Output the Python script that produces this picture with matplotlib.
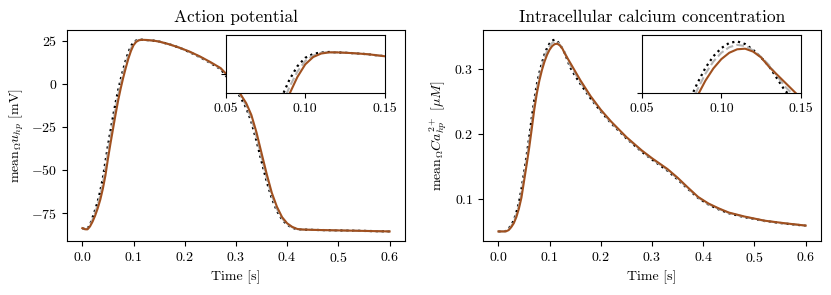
import numpy as np
import matplotlib
matplotlib.use("Agg")
import matplotlib.pyplot as plt

plt.rcParams['font.family'] = 'serif'
plt.rcParams['font.serif'] = ['cmr10', 'DejaVu Serif']
plt.rcParams['mathtext.fontset'] = 'cm'
plt.rcParams['axes.formatter.use_mathtext'] = True
plt.rcParams['font.size'] = 10

# Action potential (mean over domain), mV
t_ap = [0, 0.005, 0.01, 0.015, 0.02, 0.025, 0.03, 0.035, 0.04, 0.045, 0.05, 0.055,
        0.06, 0.065, 0.07, 0.075, 0.08, 0.085, 0.09, 0.095, 0.10, 0.105, 0.11, 0.115,
        0.12, 0.13, 0.14, 0.15, 0.17, 0.19, 0.21, 0.23, 0.25, 0.27, 0.29, 0.30, 0.31,
        0.32, 0.33, 0.34, 0.35, 0.36, 0.37, 0.38, 0.39, 0.40, 0.41, 0.42, 0.43, 0.45,
        0.50, 0.55, 0.60]
ap_ref = [-83.8, -84.4, -84.1, -81.8, -77.6, -73.2, -68.3, -62.2, -54.8, -45.3, -35.8, -27.2,
          -18.8, -10.8, -3.6, 2.8, 8.6, 13.9, 18.5, 22.0, 24.2, 25.2, 25.6, 25.7,
          25.6, 25.4, 25.1, 24.6, 23.0, 21.0, 18.4, 15.5, 12.2, 8.6, 1.2, -3.5, -8.4,
          -13.9, -22.0, -33.0, -45.1, -56.7, -66.5, -73.8, -78.8, -81.8, -83.6, -84.4, -84.6, -84.8,
          -85.1, -85.4, -85.7]
ap_mid = [-83.8, -84.4, -84.3, -82.3, -78.8, -74.9, -70.3, -64.8, -57.9, -49.3, -39.6, -30.9,
          -22.4, -14.2, -6.6, 0.2, 6.2, 11.7, 16.6, 20.6, 23.4, 24.8, 25.5, 25.65,
          25.6, 25.4, 25.1, 24.6, 23.0, 21.0, 18.5, 15.7, 12.4, 8.9, 2.1, -2.5, -7.4,
          -12.5, -20.0, -30.5, -42.7, -54.5, -64.9, -72.6, -78.1, -81.4, -83.3, -84.35, -84.6, -84.8,
          -85.1, -85.4, -85.7]
ap_fit = [-83.8, -84.4, -84.5, -82.8, -80.0, -76.5, -72.3, -67.3, -61.0, -53.3, -43.5, -34.5,
          -26.0, -17.5, -9.5, -2.5, 3.8, 9.5, 14.8, 19.2, 22.5, 24.4, 25.3, 25.6,
          25.6, 25.4, 25.1, 24.6, 23.0, 21.0, 18.7, 15.9, 12.7, 9.2, 3.0, -1.5, -6.5,
          -11.2, -18.0, -28.1, -40.3, -52.3, -63.3, -71.4, -77.4, -81.0, -83.1, -84.3, -84.6, -84.8,
          -85.1, -85.4, -85.7]

# Intracellular calcium (mean over domain), uM
t_ca = [0, 0.01, 0.015, 0.02, 0.025, 0.03, 0.035, 0.04, 0.045, 0.05, 0.055, 0.06,
        0.065, 0.07, 0.075, 0.08, 0.085, 0.09, 0.095, 0.10, 0.105, 0.11, 0.115, 0.12,
        0.125, 0.13, 0.14, 0.15, 0.16, 0.18, 0.20, 0.22, 0.25, 0.28, 0.30, 0.33, 0.35,
        0.37, 0.39, 0.41, 0.43, 0.45, 0.48, 0.52, 0.56, 0.60]
ca_ref = [0.050, 0.050, 0.0508, 0.0545, 0.0595, 0.067, 0.079, 0.094, 0.115, 0.140, 0.166, 0.194,
          0.224, 0.252, 0.276, 0.294, 0.309, 0.322, 0.332, 0.339, 0.3435, 0.3448, 0.3425, 0.3375,
          0.331, 0.3235, 0.3025, 0.289, 0.277, 0.2545, 0.2345, 0.2165, 0.193, 0.1725, 0.1605, 0.1435, 0.130,
          0.1155, 0.1015, 0.0915, 0.084, 0.078, 0.072, 0.066, 0.062, 0.0588]
ca_mid = [0.050, 0.050, 0.0505, 0.053, 0.058, 0.0645, 0.0755, 0.0895, 0.108, 0.1335, 0.159, 0.186,
          0.2155, 0.2445, 0.2695, 0.288, 0.3035, 0.317, 0.3275, 0.335, 0.3398, 0.3418, 0.3408, 0.337,
          0.3315, 0.3245, 0.306, 0.2925, 0.2795, 0.2563, 0.2358, 0.2178, 0.194, 0.1735, 0.1615, 0.1448, 0.1315,
          0.1165, 0.1022, 0.0922, 0.0848, 0.0785, 0.0725, 0.0662, 0.0622, 0.0589]
ca_fit = [0.050, 0.050, 0.0502, 0.052, 0.0565, 0.0625, 0.072, 0.085, 0.102, 0.127, 0.152, 0.178,
          0.207, 0.237, 0.262, 0.282, 0.298, 0.311, 0.3215, 0.3295, 0.335, 0.338, 0.3385, 0.336,
          0.331, 0.323, 0.3095, 0.296, 0.2825, 0.258, 0.237, 0.219, 0.195, 0.1745, 0.1625, 0.146, 0.1325,
          0.1175, 0.103, 0.093, 0.0855, 0.079, 0.073, 0.0665, 0.0625, 0.059]

zoom_xticks = [0.05, 0.10, 0.15]
zoom_xlabels = ['0.05', '0.10', '0.15']


def draw_curves(ax, t, ref, mid, fit):
    ax.plot(t, ref, color='black', linestyle=':', linewidth=1.6)
    ax.plot(t, mid, color='#b5b5b5', linestyle='--', linewidth=1.5)
    ax.plot(t, fit, color='#a0501f', linestyle='-', linewidth=1.5)


fig, axes = plt.subplots(1, 2, figsize=(8.31, 2.95), dpi=100)
fig.subplots_adjust(left=0.0806, right=0.988, bottom=0.183, top=0.898, wspace=0.231)

# left panel: action potential
ax = axes[0]
draw_curves(ax, t_ap, ap_ref, ap_mid, ap_fit)
ax.set_title('Action potential', fontsize=12.5)
ax.set_xlabel('Time [s]')
ax.set_ylabel(r'$\mathrm{mean}_\Omega u_{hp}$ [mV]')
ax.set_yticks([-75, -50, -25, 0, 25])

ins = ax.inset_axes([0.47, 0.70, 0.47, 0.275])
draw_curves(ins, t_ap, ap_ref, ap_mid, ap_fit)
ins.set_xlim(0.05, 0.15)
ins.set_ylim(15, 30)
ins.set_xticks(zoom_xticks)
ins.set_xticklabels(zoom_xlabels)
ins.set_yticks([20])
ins.set_yticklabels([])

# right panel: calcium
ax = axes[1]
draw_curves(ax, t_ca, ca_ref, ca_mid, ca_fit)
ax.set_title('Intracellular calcium concentration', fontsize=12.5)
ax.set_xlabel('Time [s]')
ax.set_ylabel(r'$\mathrm{mean}_\Omega Ca^{2+}_{hp}$ [$\mu M$]')
ax.set_yticks([0.1, 0.2, 0.3])

ins = ax.inset_axes([0.47, 0.70, 0.47, 0.275])
draw_curves(ins, t_ca, ca_ref, ca_mid, ca_fit)
ins.set_xlim(0.05, 0.15)
ins.set_ylim(0.30, 0.35)
ins.set_xticks(zoom_xticks)
ins.set_xticklabels(zoom_xlabels)
ins.set_yticks([0.3])
ins.set_yticklabels([])

for ax in axes:
    ax.set_xticks([0.0, 0.1, 0.2, 0.3, 0.4, 0.5, 0.6])

fig.savefig('out.png', dpi=100)
